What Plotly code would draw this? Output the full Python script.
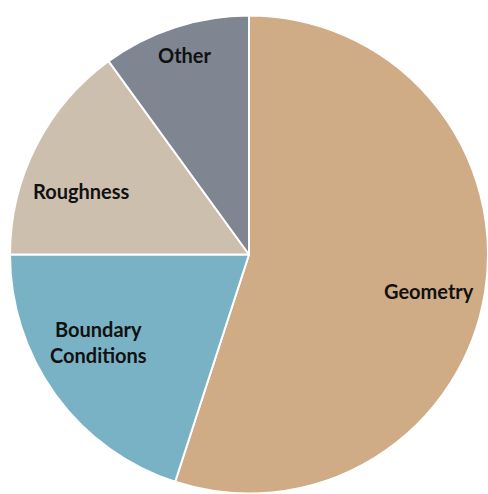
import math
import plotly.graph_objects as go

labels = ["Geometry", "Boundary<br>Conditions", "Roughness", "Other"]
values = [55, 20, 15, 10]
colors = ["#CFAB86", "#79B2C4", "#CDBFAE", "#7F8691"]

# label placement style: angle offset from slice middle (deg), radius fraction
label_angle_offset = [2.5, 5.8, -6.1, 0.3]
label_radius_frac = [0.77, 0.73, 0.75, 0.875]

W, H = 488, 494
dom_x = [10 / W, 1]
dom_y = [0, 1 - 15 / H]

fig = go.Figure(go.Pie(
    labels=labels,
    values=values,
    sort=False,
    direction="clockwise",
    rotation=0,
    marker=dict(colors=colors, line=dict(color="white", width=2)),
    textinfo="none",
    showlegend=False,
    hoverinfo="label+percent",
    domain=dict(x=dom_x, y=dom_y),
))

# derive label positions from the data (slice angles)
cx = (dom_x[0] + dom_x[1]) / 2
cy = (dom_y[0] + dom_y[1]) / 2
R = min((dom_x[1] - dom_x[0]) * W, (dom_y[1] - dom_y[0]) * H) / 2
total = sum(values)
cum = 0
for lab, v, off, rf in zip(labels, values, label_angle_offset, label_radius_frac):
    mid = (cum + v / 2) / total * 360 + off
    cum += v
    a = math.radians(mid)
    x = cx + rf * R * math.sin(a) / W
    y = cy + rf * R * math.cos(a) / H
    fig.add_annotation(
        x=x, y=y, xref="paper", yref="paper",
        text=lab, showarrow=False,
        font=dict(family="Lato", size=20, color="#111111", weight="bold"),
        xanchor="center", yanchor="middle", align="center",
    )

fig.update_layout(
    width=W, height=H,
    margin=dict(l=0, r=0, t=0, b=0),
    paper_bgcolor="white",
    plot_bgcolor="white",
)

fig.write_html("out.html")
